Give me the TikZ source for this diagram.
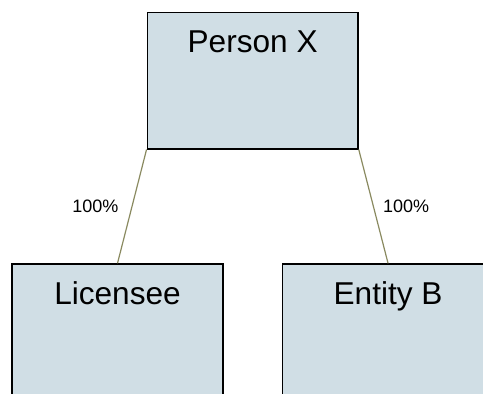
\documentclass[tikz,border=0pt]{standalone}
\usepackage{fontspec}
\setmainfont{Liberation Sans}
\definecolor{boxfill}{RGB}{208,222,229}
\definecolor{linkcol}{RGB}{138,138,96}

\begin{document}
\begin{tikzpicture}
[x=1pt,y=1pt,
block/.style ={rectangle, draw=black, line width=1.5pt, fill=boxfill,
minimum width=210.7pt, inner xsep=0pt, inner ysep=0pt,
text height=40pt, text depth=96.3pt, align=center,
font=\fontsize{31.6}{38}\selectfont, anchor=north},
line/.style ={draw=linkcol, line width=1.2pt},
share/.style ={font=\fontsize{18}{22}\selectfont, inner sep=0pt}]
\useasboundingbox (0,0) rectangle (483,-394);
\clip (0,0) rectangle (483,-394);
% owner
\node [block] (person) at (252.65,-11.7) {Person X};
% held entities
\node [block] (licensee) at (117.5,-263.3) {Licensee};
\node [block] (entityb) at (388.05,-263.3) {Entity B};
% ownership links
\path [line] (person.south west) -- node [share, midway, left, xshift=-13pt] (pctl) {100\%} (licensee.north);
\path [line] (person.south east) -- node [share, midway, right, xshift=9pt] (pctr) {100\%} (entityb.north);
\end{tikzpicture}
\end{document}
